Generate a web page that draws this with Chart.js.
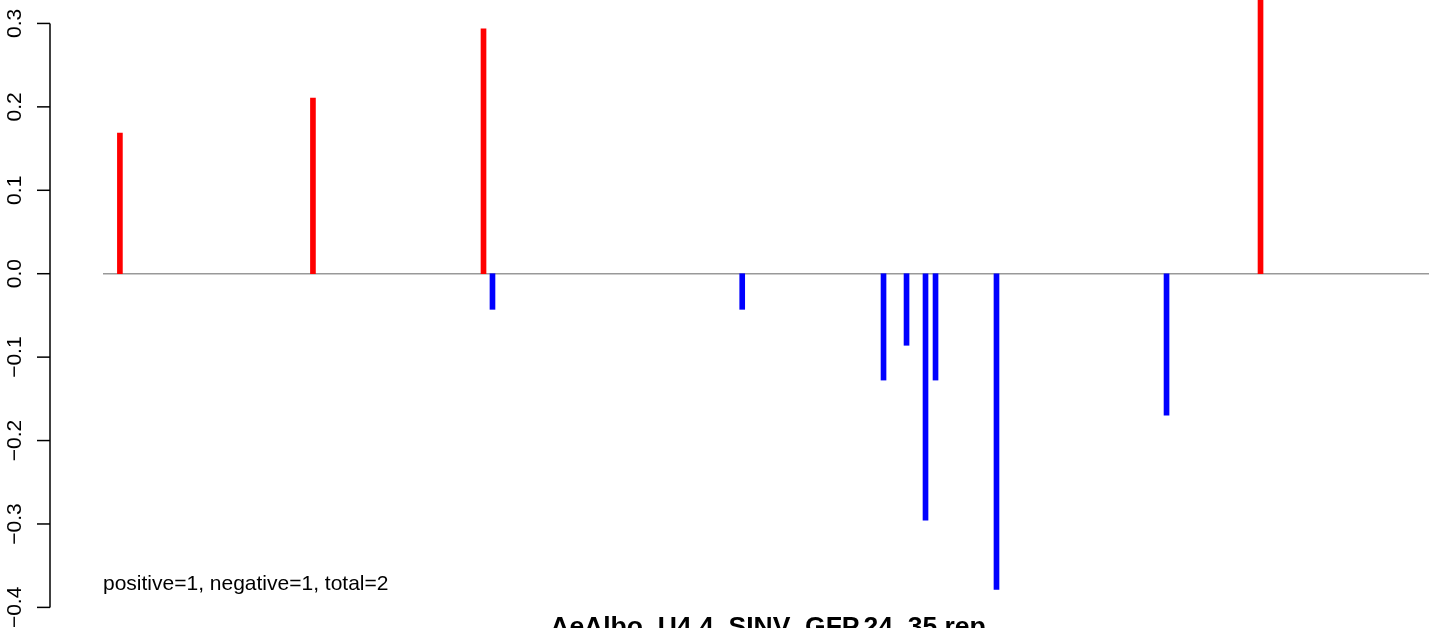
<!DOCTYPE html>
<html>
<head>
<meta charset="utf-8">
<script src="https://cdn.jsdelivr.net/npm/chart.js@4"></script>
<style>
    body { margin: 0; background: #fff; }
    #wrap { width: 1429px; height: 628px; }
</style>
</head>
<body>
<div id="wrap"><canvas id="plot" width="1429" height="628"></canvas></div>
<script>
// Positions along the sequence and the score for each one
const positions = [13, 161.5, 292.7, 299.6, 491.7, 600.4, 618.1, 632.7, 640.4, 687.3, 818.1, 890.4];
const scores = [0.1686, 0.2106, 0.2934, -0.0427, -0.0427, -0.1275, -0.0858, -0.2955, -0.1275, -0.3786, -0.1695, 0.45];

// Y axis tick values and their labels
const yTicks = [-0.4, -0.3, -0.2, -0.1, 0.0, 0.1, 0.2, 0.3];
const yTickLabels = ['\u22120.4', '\u22120.3', '\u22120.2', '\u22120.1', '0.0', '0.1', '0.2', '0.3'];

const zeroLine = [0, 1020];
const titleText = 'AeAlbo_U4.4_SINV_GFP.24_35.rep';
const summaryText = 'positive=1, negative=1, total=2';

const FONT = '"Liberation Sans", Arial, Helvetica, sans-serif';

// Draws the R-style left axis, the summary text and the title
const decorations = {
    id: 'decorations',
    afterDatasetsDraw(chart) {
        const ctx = chart.ctx;
        const y = chart.scales.y;
        const x = chart.scales.x;
        const axisX = chart.chartArea.left;

        ctx.save();
        ctx.strokeStyle = '#000';
        ctx.lineWidth = 1.5;
        ctx.beginPath();
        ctx.moveTo(axisX, y.getPixelForValue(yTicks[yTicks.length - 1]));
        ctx.lineTo(axisX, y.getPixelForValue(yTicks[0]));
        ctx.stroke();

        ctx.fillStyle = '#000';
        ctx.font = '21px ' + FONT;
        ctx.textAlign = 'center';
        ctx.textBaseline = 'alphabetic';
        yTicks.forEach((v, i) => {
            const py = y.getPixelForValue(v);
            ctx.beginPath();
            ctx.moveTo(axisX - 13, py);
            ctx.lineTo(axisX, py);
            ctx.stroke();

            ctx.save();
            ctx.translate(axisX - 29, py);
            ctx.rotate(-Math.PI / 2);
            ctx.fillText(yTickLabels[i], 0, 0);
            ctx.restore();
        });

        // summary text sits at the start of the data range
        ctx.textAlign = 'left';
        ctx.fillText(summaryText, x.getPixelForValue(0), 590);

        // title is drawn below the plot and gets cut off by the canvas edge
        ctx.font = 'bold 26.5px ' + FONT;
        ctx.textAlign = 'center';
        ctx.fillText(titleText, 768, 635);
        ctx.restore();
    }
};

const ctx = document.getElementById('plot').getContext('2d');
const chart = new Chart(ctx, {
    type: 'bar',
    data: {
        datasets: [
            {
                type: 'bar',
                data: positions.map((p, i) => ({ x: p, y: scores[i] })),
                backgroundColor: scores.map(v => v > 0 ? '#ff0000' : '#0000ff'),
                borderWidth: 0,
                barThickness: 5,
                order: 1
            },
            {
                type: 'line',
                data: zeroLine.map(p => ({ x: p, y: 0 })),
                borderColor: '#999999',
                borderWidth: 1.5,
                pointRadius: 0,
                order: 2
            }
        ]
    },
    options: {
        responsive: false,
        animation: false,
        layout: { padding: { left: 50, right: 0, top: 0, bottom: 0 } },
        scales: {
            x: { type: 'linear', display: false, offset: false, grid: { offset: false }, min: -40.77, max: 1020 },
            y: { display: false, min: -0.4247, max: 0.3281 }
        },
        plugins: {
            legend: { display: false },
            tooltip: { enabled: false }
        }
    },
    plugins: [decorations]
});
</script>
</body>
</html>
